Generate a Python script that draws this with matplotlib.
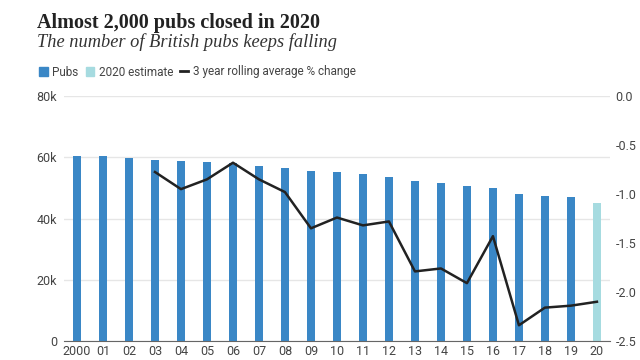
import matplotlib
matplotlib.use("Agg")
import matplotlib.pyplot as plt
from matplotlib.patches import Patch
from matplotlib.lines import Line2D

years = ["2000", "01", "02", "03", "04", "05", "06", "07", "08", "09", "10",
         "11", "12", "13", "14", "15", "16", "17", "18", "19", "20"]
pubs = [60.5, 60.5, 59.9, 59.1, 58.8, 58.4, 58.0, 57.2, 56.6, 55.6, 55.3,
        54.5, 53.6, 52.4, 51.7, 50.6, 50.0, 48.0, 47.4, 46.9, 45.1]  # thousands
estimate_idx = 20
rolling_years = list(range(3, 21))
rolling = [-0.775, -0.95, -0.85, -0.68, -0.85, -0.98, -1.35, -1.24, -1.32,
           -1.28, -1.79, -1.76, -1.91, -1.43, -2.34, -2.16, -2.14, -2.10]

blue = "#3a87c6"
light = "#a6dbe0"
txt = "#444444"
sans = ["Roboto", "DejaVu Sans"]

fig = plt.figure(figsize=(6.4, 3.6), dpi=100)
ax = fig.add_axes([0.1, 0.053, 0.853, 0.68])

x = list(range(len(years)))
colors = [light if i == estimate_idx else blue for i in x]
ax.bar(x, [p * 1000 for p in pubs], width=0.28, color=colors, zorder=2)
ax.set_xlim(-0.5, 20.5)
ax.set_ylim(0, 80000)
ax.set_yticks([0, 20000, 40000, 60000, 80000])
ax.set_yticklabels(["0", "20k", "40k", "60k", "80k"])
ax.grid(axis="y", color="#e6e6e6", linewidth=1, zorder=0)
ax.set_xticks(x)
ax.set_xticklabels(years)
for s in ["top", "right", "left"]:
    ax.spines[s].set_visible(False)
ax.spines["bottom"].set_color("#666666")
ax.tick_params(axis="both", length=0, labelsize=9, colors=txt)
ax.tick_params(axis="x", pad=3)
ax.tick_params(axis="y", pad=5)
for lab in ax.get_xticklabels() + ax.get_yticklabels():
    lab.set_family(sans)

ax2 = ax.twinx()
ax2.plot(rolling_years, rolling, color="#222222", linewidth=1.8, zorder=3)
ax2.set_ylim(-2.5, 0)
ax2.set_yticks([0, -0.5, -1.0, -1.5, -2.0, -2.5])
ax2.set_yticklabels(["0.0", "-0.5", "-1.0", "-1.5", "-2.0", "-2.5"])
for s in ["top", "right", "left", "bottom"]:
    ax2.spines[s].set_visible(False)
ax2.tick_params(axis="y", length=0, labelsize=9, colors=txt, pad=4)
for lab in ax2.get_yticklabels():
    lab.set_family(sans)

fig.text(0.058, 0.922, "Almost 2,000 pubs closed in 2020", family="Liberation Serif",
         weight="bold", fontsize=14.5, color="#222222", va="baseline")
fig.text(0.058, 0.87, "The number of British pubs keeps falling", family="Liberation Serif",
         style="italic", fontsize=13.2, color="#333333", va="baseline")

handles = [Patch(color=blue), Patch(color=light), Line2D([], [], color="#222222", linewidth=2)]
labels = ["Pubs", "2020 estimate", "3 year rolling average % change"]
fig.legend(handles, labels, loc="center left", bbox_to_anchor=(0.045, 0.8), ncol=3,
           frameon=False, handlelength=0.7, handleheight=0.7, handletextpad=0.4,
           columnspacing=0.6, prop={"family": sans, "size": 8.5}, labelcolor=txt)

fig.savefig("out.png", dpi=100, facecolor="white")
